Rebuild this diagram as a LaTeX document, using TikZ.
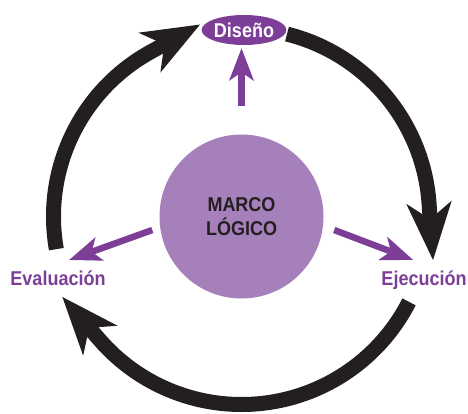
\documentclass[tikz,border=0pt]{standalone}
\usepackage{fontspec}
\setmainfont{Liberation Sans}[FakeStretch=0.9]
\usetikzlibrary{arrows.meta,shapes.geometric}
\definecolor{morado}{RGB}{125,62,152}
\definecolor{lila}{RGB}{166,128,187}
\definecolor{negro}{RGB}{35,31,32}
\begin{document}
\begin{tikzpicture}[x=1bp, y=1bp, font=\bfseries\fontsize{20bp}{23.5bp}\selectfont,
	ciclo/.style={draw=negro, line width=15bp, -{Stealth[length=57bp, width=44bp, inset=16bp]}},
	flecha/.style={draw=morado, line width=6.5bp, -{Stealth[length=32bp, width=24bp, inset=8bp]}},
	etiqueta/.style={text=morado, anchor=base, inner sep=0pt}]
	\def\R{188} % radio del ciclo
	\useasboundingbox (0,0) rectangle (468,413);
	\node[circle, fill=lila, minimum size=164bp, align=center, text=negro] (mc) at (241.5,196.5) {MARCO\\LÓGICO};
	\node[ellipse, fill=morado, text=white, minimum width=75bp, minimum height=30bp, inner sep=0pt] (dis) at (244,383) {Diseño};
	\node[etiqueta] (eva) at (58,128) {Evaluación};
	\node[etiqueta] (eje) at (424,128) {Ejecución};
	% flechas del marco
	\draw[flecha] ([yshift=28.5bp]mc.north) -- ([yshift=-3bp]mc.north |- dis.south);
	\draw[flecha] ([shift={(-7,-13.5)}]mc.west) -- ([shift={(11,25)}]eva.base);
	\draw[flecha] ([shift={(10.5,-13.5)}]mc.east) -- ([shift={(-10.7,25)}]eje.base);
	% ciclo
	\foreach \a/\b in {190/119, 76/4, -27/-139}
	\draw[ciclo] (mc.center) ++(\a:\R) arc[start angle=\a, end angle=\b, radius=\R] -- ++({\b-90}:57);
\end{tikzpicture}
\end{document}
